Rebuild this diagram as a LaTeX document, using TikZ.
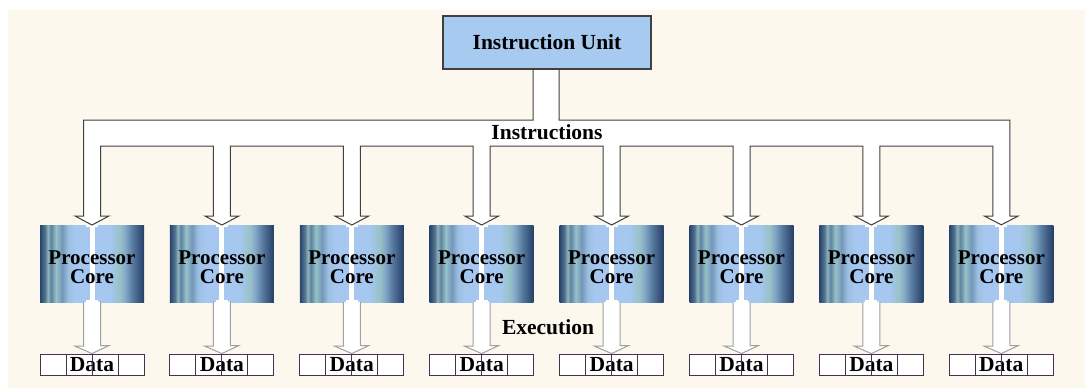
\documentclass[tikz,border=0pt]{standalone}
\usepackage{fontspec}
\setmainfont{Liberation Serif}
\usetikzlibrary{calc}
\definecolor{cream}{HTML}{FDF8ED}
\definecolor{iublue}{HTML}{A6CAF0}
\definecolor{edge}{HTML}{404040}
\definecolor{cellline}{HTML}{4A3050}
\definecolor{execline}{HTML}{A0A0A0}
\pgfdeclarehorizontalshading{coreshade}{100bp}{%
rgb(0bp)=(.15,.27,.43); rgb(25bp)=(.15,.27,.43); rgb(27.4bp)=(.33,.45,.55);
rgb(28.8bp)=(.55,.71,.75); rgb(30.3bp)=(.37,.51,.63); rgb(32.7bp)=(.59,.76,.78);
rgb(35.6bp)=(.45,.59,.73); rgb(38.5bp)=(.61,.75,.88); rgb(41.8bp)=(.65,.78,.94);
rgb(58.7bp)=(.65,.78,.94); rgb(63.5bp)=(.59,.76,.78); rgb(66.1bp)=(.51,.65,.78);
rgb(69.2bp)=(.35,.49,.63); rgb(72.4bp)=(.24,.35,.51); rgb(75bp)=(.14,.25,.41);
rgb(100bp)=(.14,.25,.41)}
\begin{document}
\begin{tikzpicture}[x=1pt,y=-1pt,
  lbl/.style={font=\bfseries\fontsize{21.5}{18}\selectfont, inner sep=0pt},
  corelbl/.style={font=\bfseries\fontsize{21}{19}\selectfont, inner sep=0pt, align=center},
  iubox/.style={draw=edge, line width=1.1pt, fill=iublue, minimum width=208pt, minimum height=53pt, inner sep=0pt, font=\bfseries\fontsize{21.5}{18}\selectfont},
  corebox/.style={shading=coreshade, minimum width=104pt, minimum height=77pt, inner sep=0pt,
     path picture={
       \fill[white] ([xshift=-2.5pt]path picture bounding box.north) rectangle ([xshift=2.5pt]path picture bounding box.south);
       \fill[white] ([xshift=-6pt]path picture bounding box.north) rectangle ([xshift=6pt,yshift=-2pt]path picture bounding box.north);
       \fill[white] ([xshift=-6pt]path picture bounding box.south) rectangle ([xshift=6pt,yshift=2pt]path picture bounding box.south);
     }},
  datarow/.style={draw=cellline, line width=0.9pt, fill=white, minimum width=104pt, minimum height=21pt, inner sep=0pt},
  bus/.style={draw=edge, line width=1pt, fill=white, line join=miter},
  execarrow/.style={draw=execline, line width=1pt, fill=white}
]
\useasboundingbox (0,0) rectangle (1085,388);
\fill[cream] (8,10) rectangle (1085,388);

% cores and data
\foreach \i in {0,...,7}{
  \pgfmathsetmacro{\cx}{92+129.9*\i}
  \node[corebox] (c\i) at (\cx,263.5) {};
  \node[corelbl] (t\i) at (\cx,267) {Processor\\Core};
  \node[datarow] (d\i) at (\cx,364.5) {};
}

% instruction bus
\draw[bus] (533,69) -- (533,120) -- (83.5,120)
  \foreach \i in {0,...,6}{
    -- ({92+129.9*\i-8.5},216) -- ({92+129.9*\i-17},216) -- ({92+129.9*\i},225)
    -- ({92+129.9*\i+17},216) -- ({92+129.9*\i+8.5},216) -- ({92+129.9*\i+8.5},146)
    -- ({92+129.9*(\i+1)-8.5},146)
  }
  -- ({92+129.9*7-8.5},216) -- ({92+129.9*7-17},216) -- (c7.north)
  -- ({92+129.9*7+17},216) -- ({92+129.9*7+8.5},216) -- ({92+129.9*7+8.5},120)
  -- (559,120) -- (559,69) -- cycle;

\node[iubox] (iu) at (547,42.5) {Instruction Unit};
\node[lbl] (instr) at (547,132) {Instructions};

% execution arrows and data cells
\foreach \i in {0,...,7}{
  \draw[execarrow] ($(c\i.south)+(-8.5,0)$) -- ++(0,44) -- ++(-8.5,0) -- (d\i.north)
     -- ++(17,-8) -- ++(-8.5,0) -- ++(0,-44);
  \node[lbl] (dl\i) at ($(d\i.center)+(0,0.5)$) {Data};
  \draw[cellline, line width=0.9pt] ($(d\i.north)+(-26,0)$) -- ($(d\i.south)+(-26,0)$)
     ($(d\i.north)$) -- ($(d\i.south)$)
     ($(d\i.north)+(26,0)$) -- ($(d\i.south)+(26,0)$);
}
\node[lbl] (exec) at (548,327) {Execution};
\end{tikzpicture}
\end{document}
